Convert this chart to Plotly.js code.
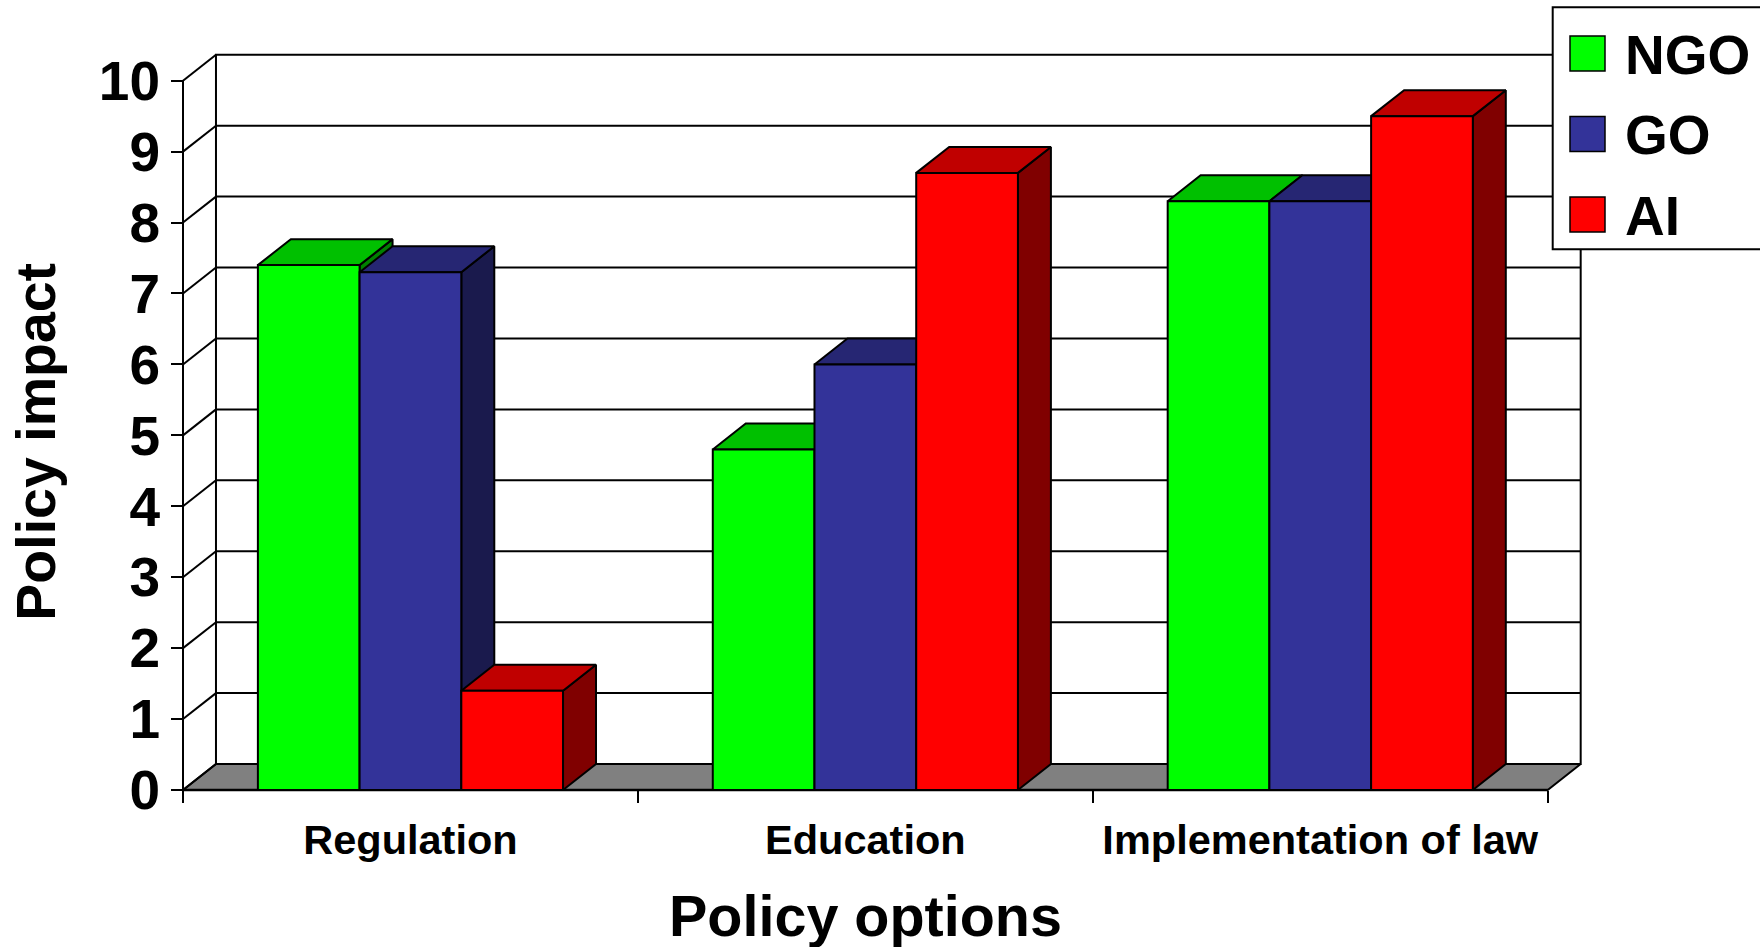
<!DOCTYPE html>
<html><head><meta charset="utf-8">
<script src="https://cdn.plot.ly/plotly-3.0.1.min.js"></script>
<style>html,body{margin:0;padding:0;background:#fff}#chart{width:1760px;height:947px}</style>
</head><body><div id="chart"></div>
<script>
// ---- data ----
const categories = ['Regulation', 'Education', 'Implementation of law'];
const seriesNames = ['NGO', 'GO', 'AI'];
const ngo = [7.4, 4.8, 8.3];
const go  = [7.3, 6.0, 8.3];
const ai  = [1.4, 8.7, 9.5];
const yTicks = [0, 1, 2, 3, 4, 5, 6, 7, 8, 9, 10];
const xTitle = 'Policy options';
const yTitle = 'Policy impact';

// ---- style ----
const frontColors = ['#00ff00', '#333399', '#ff0000'];
const topColors   = ['#00c000', '#262673', '#c00000'];
const sideColors  = ['#008000', '#1a1a4d', '#800000'];
const FONT = 'Liberation Sans, Arial, sans-serif';

const series = [ngo, go, ai];
const DX = 0.0725, DY = 0.366, W = 0.2236;
const yMax = yTicks[yTicks.length - 1];

// plot geometry (pixels)
const FIGW = 1760, FIGH = 947;
const Sx = 454.9, Sy = 70.93, PADX = 13, PADY = 13;
const L = 170, R = 176, T = 50, B = 144;
const PW = FIGW - L - R, PH = FIGH - T - B;
const xStart = -0.5 - PADX / Sx;
const yStart = -PADY / Sy;
const px2X = px => (px - L) / PW;
const py2Y = py => (FIGH - B - py) / PH;

const traces = [];
function poly(xs, ys, fill, lw, name) {
  traces.push({
    type: 'scatter', mode: 'lines',
    x: xs.concat([xs[0]]), y: ys.concat([ys[0]]),
    fill: 'toself', fillcolor: fill,
    line: { color: '#000', width: lw },
    hoverinfo: name ? 'name' : 'skip', name: name || '', showlegend: false
  });
}
function lines(xs, ys, lw) {
  traces.push({
    type: 'scatter', mode: 'lines', x: xs, y: ys,
    line: { color: '#000', width: lw }, hoverinfo: 'skip', showlegend: false
  });
}
const xL = -0.5, xR = categories.length - 0.5;

// back wall
poly([xL + DX, xR + DX, xR + DX, xL + DX], [DY, DY, yMax + DY, yMax + DY], '#ffffff', 2);
// back wall gridlines
{
  const gx = [], gy = [];
  yTicks.forEach(v => { if (v > 0 && v < yMax) { gx.push(xL + DX, xR + DX, null); gy.push(v + DY, v + DY, null); } });
  lines(gx, gy, 2);
}
// floor
poly([xL, xR, xR + DX, xL + DX], [0, 0, DY, DY], '#808080', 2);
// side-wall diagonals + front axis line
{
  const gx = [], gy = [];
  yTicks.forEach(v => { gx.push(xL, xL + DX, null); gy.push(v, v + DY, null); });
  gx.push(xL, xL); gy.push(0, yMax);
  lines(gx, gy, 2);
}
// front floor edge
lines([xL, xR], [0, 0], 2.5);

// 3D bars (painter's order)
categories.forEach((cat, c) => {
  series.forEach((vals, s) => {
    const v = vals[c];
    const x0 = c + (s - series.length / 2) * W;
    const x1 = x0 + W;
    const nm = seriesNames[s] + ' – ' + cat + ': ' + v;
    poly([x1, x1 + DX, x1 + DX, x1], [0, DY, v + DY, v], sideColors[s], 2);
    poly([x0, x1, x1 + DX, x0 + DX], [v, v, v + DY, v + DY], topColors[s], 2);
    poly([x0, x1, x1, x0], [0, 0, v, v], frontColors[s], 2, nm);
  });
});

// legend (drawn manually, big swatches)
const shapes = [];
const annotations = [];
shapes.push({ type: 'rect', xref: 'paper', yref: 'paper', x0: px2X(1552.7), x1: px2X(1800), y0: py2Y(249.3), y1: py2Y(7.3),
  fillcolor: '#ffffff', line: { color: '#000', width: 2 }, layer: 'above' });
const rowY = [53.5, 134, 214.5];
seriesNames.forEach((n, i) => {
  shapes.push({ type: 'rect', xref: 'paper', yref: 'paper', x0: px2X(1570), x1: px2X(1605), y0: py2Y(rowY[i] + 17.5), y1: py2Y(rowY[i] - 17.5),
    fillcolor: frontColors[i], line: { color: '#000', width: 1.5 }, layer: 'above' });
  annotations.push({ xref: 'paper', yref: 'paper', x: px2X(1623), y: py2Y(rowY[i] + 1), xanchor: 'left', yanchor: 'middle',
    text: n, showarrow: false, font: { family: FONT, size: 55, weight: 'bold', color: '#000' } });
});
// axis titles
annotations.push({ xref: 'x', yref: 'paper', x: (categories.length - 1) / 2, y: py2Y(915.5), xanchor: 'center', yanchor: 'middle',
  text: xTitle, showarrow: false, font: { family: FONT, size: 57.5, weight: 'bold', color: '#000' } });
annotations.push({ xref: 'paper', yref: 'paper', x: px2X(36), y: py2Y(441.7), xanchor: 'center', yanchor: 'middle', textangle: -90,
  text: yTitle, showarrow: false, font: { family: FONT, size: 55.5, weight: 'bold', color: '#000' } });

const boundaries = categories.map((_, i) => i - 0.5).concat([categories.length - 0.5]);

const layout = {
  width: FIGW, height: FIGH,
  margin: { l: L, r: R, t: T, b: B },
  paper_bgcolor: '#ffffff', plot_bgcolor: 'rgba(0,0,0,0)',
  showlegend: false,
  xaxis: {
    range: [xStart, xStart + PW / Sx], anchor: 'free', position: PADY / PH,
    tickmode: 'array', tickvals: categories.map((_, i) => i), ticktext: categories,
    ticks: '', showgrid: false, zeroline: false, showline: false,
    ticklabelstandoff: 21,
    tickfont: { family: FONT, size: 41.5, weight: 'bold', color: '#000' },
    minor: { tickmode: 'array', tickvals: boundaries, ticks: 'outside', ticklen: 12, tickwidth: 2, tickcolor: '#000', showgrid: false },
    fixedrange: true
  },
  yaxis: {
    range: [yStart, yStart + PH / Sy], anchor: 'free', position: PADX / PW,
    tickmode: 'array', tickvals: yTicks, ticktext: yTicks.map(String),
    ticks: 'outside', ticklen: 12, tickwidth: 2, tickcolor: '#000',
    showgrid: false, zeroline: false, showline: false,
    tickfont: { family: FONT, size: 55, weight: 'bold', color: '#000' },
    fixedrange: true
  },
  shapes: shapes,
  annotations: annotations
};

Plotly.newPlot('chart', traces, layout, { displayModeBar: false, staticPlot: false });
</script>
</body></html>
